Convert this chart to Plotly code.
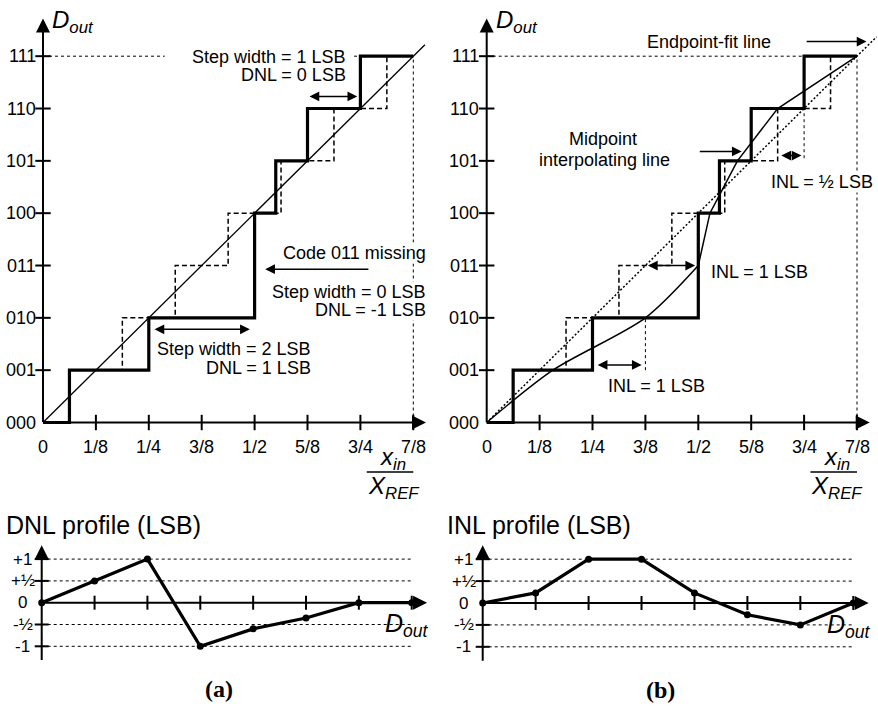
import plotly.graph_objects as go

# ---------------- data ----------------
codes = [0, 1, 2, 3, 4, 5, 6, 7]
code_labels = ["000", "001", "010", "011", "100", "101", "110", "111"]
x_tick_labels = ["0", "1/8", "1/4", "3/8", "1/2", "5/8", "3/4", "7/8"]
ideal_transitions = [0.5, 1.5, 2.5, 3.5, 4.5, 5.5, 6.5]
actual_transitions = [0.5, 2.0, 4.0, 4.0, 4.4, 5.0, 6.0]
full_scale = 7
midpoint_x = [0, 1.25, 3.0, 4.0, 4.22, 4.74, 5.5, 7.0]
midpoint_y = [0, 1, 2, 3, 4, 5, 6, 7]
dnl_values = [0, 0.5, 1.0, -1.0, -0.6, -0.35, 0, 0]
inl_values = [0, 0.23, 1.0, 1.0, 0.23, -0.27, -0.5, 0]
profile_ticks = [1, 0.5, 0, -0.5, -1]
profile_labels = ["+1", "+½", "0", "-½", "-1"]

FONT = "Liberation Sans, Arial, sans-serif"
W, H = 878, 706


def stair(trans, top):
    xs, ys = [0], [0]
    for k, t in enumerate(trans):
        xs += [t, t]
        ys += [k, k + 1]
    xs.append(top)
    ys.append(len(trans))
    return xs, ys


fig = go.Figure()


def line(ax, xs, ys, width=1.0, dash=None, shape="linear", smoothing=None):
    d = dict(color="black", width=width, shape=shape)
    if dash:
        d["dash"] = dash
    if smoothing is not None:
        d["smoothing"] = smoothing
    fig.add_trace(go.Scatter(x=xs, y=ys, mode="lines", line=d, xaxis="x" + ax, yaxis="y" + ax,
                             hoverinfo="skip", showlegend=False))


def ticks(ax, xs, ys, symbol, size=11):
    fig.add_trace(go.Scatter(x=xs, y=ys, mode="markers", xaxis="x" + ax, yaxis="y" + ax,
                             marker=dict(symbol=symbol, size=size, color="black",
                                         line=dict(color="black", width=2)),
                             hoverinfo="skip", showlegend=False))


annotations = []


def arrow(ax, x0, y0, x1, y1, both=False, width=1.5, size=1.3):
    annotations.append(dict(xref="x" + ax, yref="y" + ax, axref="x" + ax, ayref="y" + ax,
                            x=x1, y=y1, ax=x0, ay=y0, text="", showarrow=True,
                            arrowhead=2, arrowsize=size, arrowwidth=width,
                            arrowside="end+start" if both else "end", arrowcolor="black",
                            standoff=0, startstandoff=0))


def text(ax, x, y, s, size=18, xanchor="center", yanchor="middle", bg=None, family=FONT):
    a = dict(xref="x" + ax, yref="y" + ax, x=x, y=y, text=s, showarrow=False,
             xanchor=xanchor, yanchor=yanchor,
             font=dict(family=family, size=size, color="black"), borderpad=0)
    if bg:
        a["bgcolor"] = bg
    annotations.append(a)


ideal_x, ideal_y = stair(ideal_transitions, full_scale)
act_x, act_y = stair(actual_transitions, full_scale)
inner = codes[1:]

# ================= top panels =================
for ax in ["", "2"]:
    # dotted reference lines
    if ax == "":
        line(ax, [0, 2.3], [full_scale, full_scale], 1, "dot")
        line(ax, [5.88, 6.0], [full_scale, full_scale], 1, "dot")
    else:
        line(ax, [0, full_scale], [full_scale, full_scale], 1, "dot")
    line(ax, [full_scale, full_scale], [0, full_scale], 1, "dot")
    # ideal staircase
    line(ax, ideal_x, ideal_y, 1.5, "5px,3px")
    if ax == "":
        line(ax, [0, full_scale + 0.22], [0, full_scale + 0.22], 1.3)
    else:
        line(ax, [0, full_scale + 0.37], [0, full_scale + 0.37], 1.5, "2px,2px")
        line(ax, [midpoint_x[2], midpoint_x[2]], [1, 2], 1, "dot")
        line(ax, [6, 6], [5.05, 6], 1, "dot")
        line(ax, midpoint_x[:4], midpoint_y[:4], 1.5, shape="spline", smoothing=0.8)
        line(ax, midpoint_x[3:], midpoint_y[3:], 1.5)
    # actual staircase
    line(ax, act_x, act_y, 3.2)
    # ticks
    ticks(ax, inner, [0] * len(inner), "line-ns-open", 11)
    ticks(ax, [0] * len(inner), inner, "line-ew-open", 11)
    # axes arrows
    arrow(ax, 0, -0.02, 0, 7.72, width=2, size=1.4)
    arrow(ax, -0.02, 0, 7.24, 0, width=2, size=1.4)
    # tick labels
    for c, lab in zip(codes, code_labels):
        text(ax, -0.12, c, lab, size=18, xanchor="right")
    for c, lab in zip(codes, x_tick_labels):
        text(ax, c, -0.46, lab, size=18)
    # axis titles
    text(ax, 0.16, 7.66, "<i>D<sub>out</sub></i>", size=24, xanchor="left")
    text(ax, 6.62, -0.68, "<i>x<sub>in</sub></i>", size=24)
    line(ax, [6.12, 7.0], [-0.945, -0.945], 1.5)
    text(ax, 6.63, -1.24, "<i>X<sub>REF</sub></i>", size=24)

# ---- left annotations ----
text("", 5.75, 6.99, "Step width = 1 LSB", xanchor="right")
text("", 5.75, 6.64, "DNL = 0 LSB", xanchor="right")
arrow("", 5.01, 6.23, 5.94, 6.23, both=True)
text("", 7.26, 3.23, "Code 011 missing", xanchor="right", bg="white")
arrow("", 6.18, 2.93, 4.2, 2.93)
text("", 7.26, 2.50, "Step width = 0 LSB", xanchor="right", bg="white")
text("", 7.26, 2.15, "DNL = -1 LSB", xanchor="right", bg="white")
arrow("", 2.08, 1.78, 3.91, 1.78, both=True)
text("", 5.08, 1.40, "Step width = 2 LSB", xanchor="right")
text("", 5.08, 1.05, "DNL = 1 LSB", xanchor="right")

# ---- right annotations ----
text("2", 4.21, 7.28, "Endpoint-fit line")
arrow("2", 6.02, 7.28, 7.18, 7.28)
text("2", 2.2, 5.42, "Midpoint")
text("2", 2.22, 5.02, "interpolating line")
arrow("2", 4.0, 5.18, 4.82, 5.18)
arrow("2", 5.54, 5.1, 5.95, 5.1, both=True)
text("2", 5.36, 4.59, "INL = ½ LSB", xanchor="left", bg="white")
arrow("2", 3.02, 3.0, 3.94, 3.0, both=True)
text("2", 4.22, 2.87, "INL = 1 LSB", xanchor="left")
arrow("2", 2.07, 1.1, 2.93, 1.1, both=True)
text("2", 2.27, 0.69, "INL = 1 LSB", xanchor="left")

# ================= bottom profiles =================
for ax, vals, title, tag in [("3", dnl_values, "DNL profile (LSB)", "<b>(a)</b>"),
                             ("4", inl_values, "INL profile (LSB)", "<b>(b)</b>")]:
    for v in profile_ticks:
        if v != 0:
            line(ax, [0, full_scale], [v, v], 1, "dot")
    fig.add_trace(go.Scatter(x=codes, y=vals, mode="lines+markers", xaxis="x" + ax, yaxis="y" + ax,
                             line=dict(color="black", width=3.2),
                             marker=dict(size=7, color="black"),
                             hoverinfo="skip", showlegend=False))
    ticks(ax, inner, [0] * len(inner), "line-ns-open", 10)
    ticks(ax, [0] * 4, [v for v in profile_ticks if v != 0], "line-ew-open", 10)
    arrow(ax, 0, -1.35, 0, 1.32, width=2, size=1.4)
    arrow(ax, -0.02, 0, 7.29, 0, width=2, size=1.4)
    for v, lab in zip(profile_ticks, profile_labels):
        text(ax, -0.36, v, lab, size=17)
    text(ax, 6.48, -0.52, "<i>D<sub>out</sub></i>", size=25, xanchor="left")
    text(ax, -0.69, 1.78, title, size=25, xanchor="left")
    text(ax, 3.36, -1.99, tag, size=24, family="Liberation Serif, Times New Roman, serif")

# ================= layout =================
top_dom = [1 - 500 / H, 1]
bot_dom = [0, 1 - 460 / H]
yt = 422.5
ys_top = 52.33


def ax_off(rng, dom):
    return dict(visible=False, range=rng, domain=dom, fixedrange=True)


layout = dict(
    width=W, height=H, margin=dict(l=0, r=0, t=0, b=0),
    paper_bgcolor="white", plot_bgcolor="rgba(0,0,0,0)", showlegend=False,
    xaxis=ax_off([(0 - 43) / 52.9, (440 - 43) / 52.9], [0, 440 / W]),
    yaxis=ax_off([(yt - 500) / ys_top, yt / ys_top], top_dom),
    xaxis2=ax_off([(440 - 486.7) / 52.9, (878 - 486.7) / 52.9], [440 / W, 1]),
    yaxis2=ax_off([(yt - 500) / ys_top, yt / ys_top], top_dom),
    xaxis3=ax_off([(0 - 41.7) / 52.86, (440 - 41.7) / 52.86], [0, 440 / W]),
    yaxis3=ax_off([(602.7 - 706) / 43.6, (602.7 - 460) / 43.6], bot_dom),
    xaxis4=ax_off([(440 - 482.7) / 52.94, (878 - 482.7) / 52.94], [440 / W, 1]),
    yaxis4=ax_off([(603 - 706) / 43.8, (603 - 460) / 43.8], bot_dom),
    annotations=annotations,
)
fig.update_layout(**layout)
fig.write_html("out.html")
